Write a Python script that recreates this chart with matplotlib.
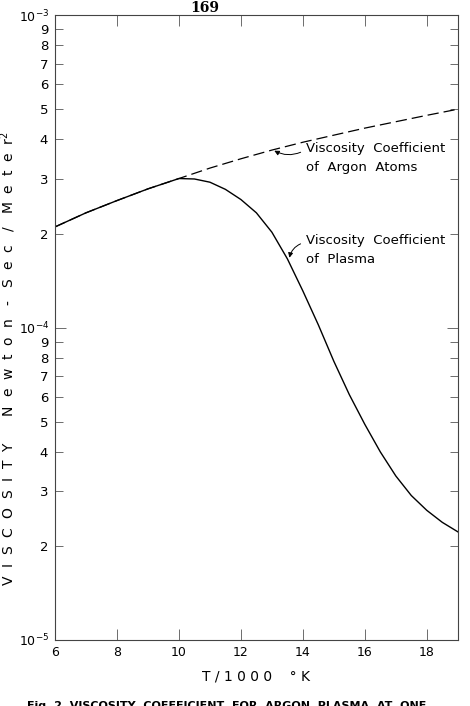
import matplotlib
matplotlib.use("Agg")
import matplotlib.pyplot as plt

# T / 1000 K
argon_t = [6, 7, 8, 9, 10, 11, 12, 13, 14, 15, 16, 17, 18, 19]
argon_mu = [2.1e-4, 2.33e-4, 2.55e-4, 2.78e-4, 3.0e-4, 3.24e-4, 3.47e-4, 3.7e-4,
            3.92e-4, 4.13e-4, 4.35e-4, 4.56e-4, 4.78e-4, 5.0e-4]

plasma_t = [6, 7, 8, 9, 10, 10.5, 11, 11.5, 12, 12.5, 13, 13.5, 14, 14.5, 15,
            15.5, 16, 16.5, 17, 17.5, 18, 18.5, 19]
plasma_mu = [2.1e-4, 2.33e-4, 2.55e-4, 2.78e-4, 3.0e-4, 2.99e-4, 2.92e-4, 2.77e-4,
             2.57e-4, 2.33e-4, 2.02e-4, 1.66e-4, 1.31e-4, 1.02e-4, 7.8e-5,
             6.1e-5, 4.9e-5, 4.0e-5, 3.35e-5, 2.9e-5, 2.6e-5, 2.38e-5, 2.22e-5]

x_ticks = [6, 8, 10, 12, 14, 16, 18]
x_labels = ["6", "8", "10", "12", "14", "16", "18"]
y_major = [1e-5, 1e-4, 1e-3]
y_major_labels = [r"$10^{-5}$", r"$10^{-4}$", r"$10^{-3}$"]
y_minor_digits = [2, 3, 4, 5, 6, 7, 8, 9]


def spaced(word, gap=" "):
    return gap.join(word)


def main():
    fig = plt.figure(figsize=(4.7, 7.06), dpi=100)
    ax = fig.add_axes([0.117, 0.0935, 0.857, 0.885])

    ax.plot(argon_t, argon_mu, color="black", lw=0.9, dashes=(9, 4))
    ax.plot(plasma_t, plasma_mu, color="black", lw=1.0)

    ax.set_yscale("log")
    ax.set_xlim(6, 19)
    ax.set_ylim(1e-5, 1e-3)

    ax.set_xticks(x_ticks)
    ax.set_xticklabels(x_labels)
    ax.set_yticks(y_major)
    ax.set_yticklabels(y_major_labels)
    minor = [d * 10.0 ** e for e in (-5, -4) for d in y_minor_digits]
    ax.set_yticks(minor, minor=True)
    ax.set_yticklabels([str(d) for e in (-5, -4) for d in y_minor_digits], minor=True)

    ax.tick_params(which="both", direction="in", top=True, right=True,
                   labelsize=9.5, color="#555555", width=0.6)
    ax.tick_params(which="major", length=8, pad=4, labelsize=9)
    ax.tick_params(which="minor", length=6, pad=5)
    for s in ax.spines.values():
        s.set_linewidth(0.8)
        s.set_color("#444444")

    ax.set_xlabel("T / 1 0 0 0    ° K", fontsize=10, labelpad=8)
    g = "  "
    ylab = (spaced("VISCOSITY", g) + "      " + spaced("Newton", g) + "   -   "
            + spaced("Sec", g) + "   /   " + spaced("Meter", g) + r"$^2$")
    ax.set_ylabel(ylab, fontsize=10)
    ax.yaxis.set_label_coords(-0.092, 0.45)

    ax.annotate("Viscosity  Coefficient\nof  Argon  Atoms", xy=(13.0, 3.72e-4),
                xytext=(14.1, 3.5e-4), fontsize=9.5, va="center", linespacing=1.6,
                arrowprops=dict(arrowstyle="-|>", color="black", lw=0.7,
                                mutation_scale=7, relpos=(0, 0.75), shrinkA=2,
                                connectionstyle="arc3,rad=-0.3"))
    ax.annotate("Viscosity  Coefficient\nof  Plasma", xy=(13.55, 1.64e-4),
                xytext=(14.1, 1.77e-4), fontsize=9.5, va="center", linespacing=1.6,
                arrowprops=dict(arrowstyle="-|>", color="black", lw=0.7,
                                mutation_scale=7, relpos=(0, 0.75), shrinkA=2,
                                connectionstyle="arc3,rad=0.35"))

    fig.text(0.436, 0.988, "169", fontsize=10, fontfamily="serif",
             fontweight="bold", ha="center", va="center")
    fig.text(0.057, 0.0, "Fig. 2  VISCOSITY  COEFFICIENT  FOR  ARGON  PLASMA  AT  ONE",
             fontsize=8.0, fontweight="bold", ha="left", va="center")

    fig.savefig("out.png", dpi=100)


if __name__ == "__main__":
    main()
